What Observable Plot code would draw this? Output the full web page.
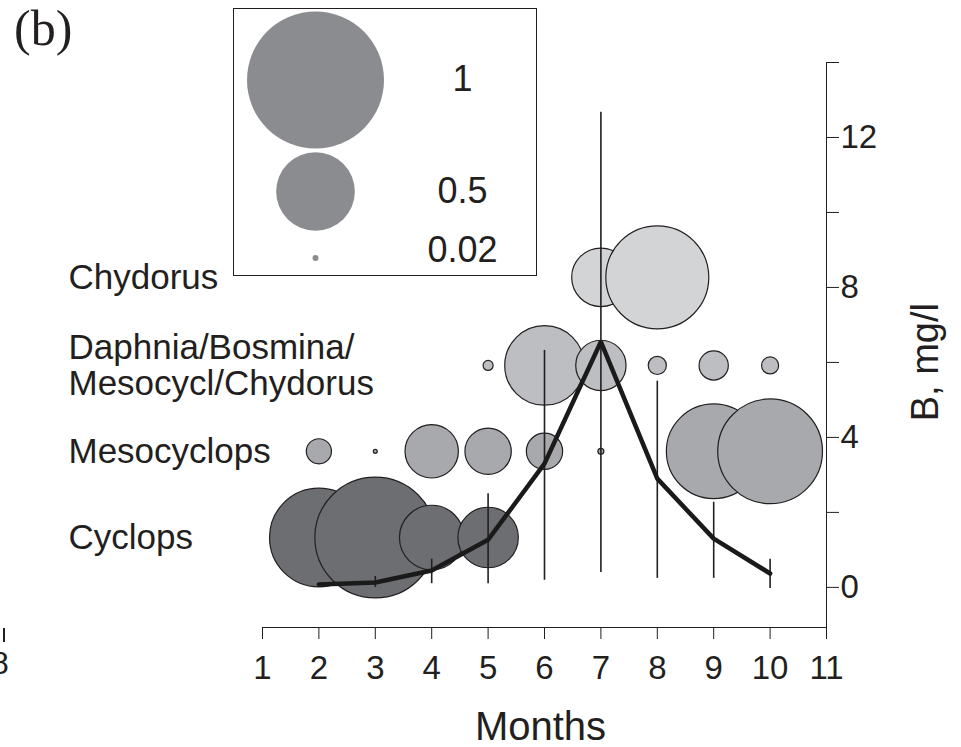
<!DOCTYPE html>
<html><head><meta charset="utf-8">
<script src="https://cdn.jsdelivr.net/npm/d3@7"></script>
<script src="https://cdn.jsdelivr.net/npm/@observablehq/plot@0.6"></script>
<style>
body{margin:0;background:#fff;}
#wrap{position:relative;width:961px;height:747px;overflow:hidden;font-family:"Liberation Sans",Arial,sans-serif;color:#231f20;}
#chart{position:absolute;left:0;top:0;}
#panel{position:absolute;left:14px;top:-2px;font-family:"Liberation Serif","Times New Roman",serif;font-size:50px;line-height:1.2;color:#231f20;}
#legend{position:absolute;left:233px;top:8px;width:302px;height:266px;border:1.5px solid #231f20;background:#fff;display:flex;flex-direction:column;}
#legend svg{display:block;}
#frag{position:absolute;left:-9px;top:645px;font-size:32px;}
#fragtick{position:absolute;left:3px;top:628px;width:2px;height:14px;background:#231f20;}
</style></head><body>
<div id="wrap"><div id="chart"></div><div id="panel">(b)</div><div id="legend"></div><div id="fragtick"></div><div id="frag">8</div></div>
<script>
// ---- data ----
const months = [2, 3, 4, 5, 6, 7, 8, 9, 10];
const xTicks = [1, 2, 3, 4, 5, 6, 7, 8, 9, 10, 11];
const yTicks = [0, 2, 4, 6, 8, 10, 12, 14];
const xLabel = "Months";
const yLabel = "B, mg/l";

// groups (rows) and the level on the B axis at which each row of bubbles sits
const groupNames = ["Cyclops", "Mesocyclops", "Daphnia/Bosmina/\nMesocycl/Chydorus", "Chydorus"];
const groupLevel = [1.33, 3.63, 5.92, 8.27];
const groupFill = ["#6d6e71", "#a7a9ac", "#bcbec1", "#d3d4d6"];

// bubble sizes per month (same order as months), null = absent
const cyclops      = [0.664, 0.855, 0.39, 0.36, null, null, null, null, null];
const mesocyclops  = [0.12, 0.012, 0.308, 0.258, 0.19, 0.02, null, 0.63, 0.715];
const daphniaGroup = [null, null, null, 0.038, 0.507, 0.286, 0.08, 0.145, 0.074];
const chydorus     = [null, null, null, null, null, 0.345, 0.70, null, null];
const groupValues = [cyclops, mesocyclops, daphniaGroup, chydorus];

// total biomass B, mg/l with error range
const biomass = [0.08, 0.13, 0.45, 1.27, 3.3, 6.55, 2.9, 1.3, 0.37];
const errLow  = [null, 0.0, 0.1, 0.1, 0.19, 0.4, 0.24, 0.24, -0.03];
const errHigh = [null, 0.29, 0.75, 2.5, 6.32, 12.67, 5.5, 2.27, 0.75];

// size legend
const legendValues = [1, 0.5, 0.02];
const legendLabels = ["1", "0.5", "0.02"];

// ---- build ----
const rScale = {type: "pow", exponent: 0.8, domain: [0, 1], range: [0, 68.5]};
const ink = "#231f20";
const font = '"Liberation Sans", Arial, sans-serif';

const lineData = months.map((m, i) => ({month: m, b: biomass[i]}));
const errData = months.map((m, i) => ({month: m, lo: errLow[i], hi: errHigh[i]})).filter(d => d.lo != null);
const rowData = groupNames.map((n, i) => ({name: n, level: groupLevel[i]}));

const bubbleMarks = groupValues.map((vals, g) =>
  Plot.dot(months.map((m, i) => ({month: m, level: groupLevel[g], v: vals[i]})).filter(d => d.v != null), {
    x: "month", y: "level", r: "v", fill: groupFill[g], stroke: ink, strokeWidth: 1.2, sort: null
  })
);

const chart = Plot.plot({
  width: 961, height: 747,
  marginLeft: 262, marginRight: 135, marginTop: 62, marginBottom: 120,
  x: {domain: [1, 11], ticks: xTicks, tickSize: 12, tickPadding: 16, tickFormat: d => String(d),
      label: null, line: true},
  y: {domain: [-1.07, 14], axis: "right", ticks: yTicks, tickSize: 12, tickPadding: 2,
      tickFormat: d => (d % 4 === 0 ? String(d) : ""), label: null, line: true},
  r: rScale,
  style: {fontFamily: font, fontSize: "33px", color: ink, background: "white"},
  marks: [
    Plot.text(rowData, {y: "level", text: "name", frameAnchor: "left", textAnchor: "start", dx: -194,
      fontSize: 35, lineHeight: 1.02, fill: ink}),
    ...bubbleMarks,
    Plot.ruleX(errData, {x: "month", y1: "lo", y2: "hi", stroke: ink, strokeWidth: 1.6}),
    Plot.line(lineData, {x: "month", y: "b", stroke: "#1a1a1a", strokeWidth: 4.5, strokeLinejoin: "miter"}),
    Plot.text([xLabel], {text: d => d, frameAnchor: "bottom", dx: -4, dy: 112, fontSize: 40, fill: ink}),
    Plot.text([yLabel], {text: d => d, frameAnchor: "right", rotate: -90, dx: 99, dy: -42, fontSize: 38, fill: ink})
  ]
});
document.getElementById("chart").append(chart);

// legend: one row per reference size
const legendHeights = [141, 82, 43];
const legendDotDy = [0, 0, 4];
const legendTextDy = [-1, 0, -4];
const legendEl = document.getElementById("legend");
legendValues.forEach((v, i) => {
  const p = Plot.plot({
    width: 302, height: legendHeights[i], margin: 0,
    r: rScale,
    style: {fontFamily: font, fontSize: "36px", color: ink, background: "transparent", overflow: "visible"},
    marks: [
      Plot.dot([v], {r: d => d, frameAnchor: "left", dx: 81, dy: legendDotDy[i], fill: "#8b8c8f", stroke: "none"}),
      Plot.text([legendLabels[i]], {text: d => d, frameAnchor: "left", dx: 228, dy: legendTextDy[i], textAnchor: "middle", fill: ink})
    ]
  });
  legendEl.append(p);
});
</script>
</body></html>
